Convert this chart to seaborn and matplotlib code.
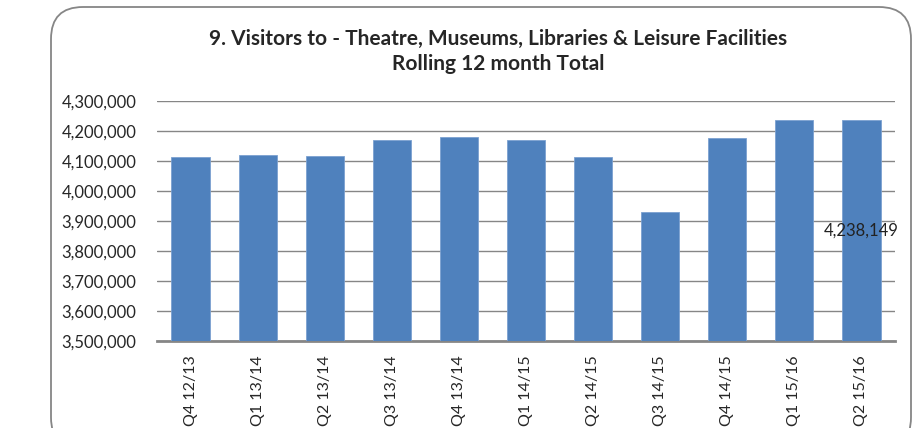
import matplotlib
matplotlib.use("Agg")
import matplotlib.pyplot as plt
import seaborn as sns
from matplotlib.patches import FancyBboxPatch
from matplotlib.ticker import FuncFormatter

# Data
quarters = ['Q4 12/13', 'Q1 13/14', 'Q2 13/14', 'Q3 13/14', 'Q4 13/14', 'Q1 14/15',
            'Q2 14/15', 'Q3 14/15', 'Q4 14/15', 'Q1 15/16', 'Q2 15/16']
visitors = [4113000, 4119000, 4116000, 4170000, 4180000, 4170000,
            4113000, 3929000, 4176000, 4236000, 4238149]
label_value = 4238149

sns.set_style("white")
plt.rcParams['font.family'] = ['Lato', 'DejaVu Sans']

fig = plt.figure(figsize=(9.13, 4.28), dpi=100)
ax = fig.add_axes([157 / 913, 1 - 341 / 428, (895 - 157) / 913, (341 - 101) / 428])

# rounded chart border
border = FancyBboxPatch((51 / 913, -0.05), (911 - 51) / 913, (428 - 7) / 428 + 0.05,
                        boxstyle="round,pad=0,rounding_size=0.035",
                        transform=fig.transFigure, fill=False,
                        edgecolor='#868686', linewidth=1.3, mutation_aspect=913 / 428)
fig.patches.append(border)

sns.barplot(x=quarters, y=visitors, color='#4F81BD', width=0.57, saturation=1,
            edgecolor='#7BA1D0', linewidth=0.6, ax=ax, zorder=3)

ax.set_ylim(3500000, 4300000)
ax.set_yticks(range(3500000, 4300001, 100000))
ax.yaxis.set_major_formatter(FuncFormatter(lambda v, p: f"{int(v):,}"))
ax.grid(axis='y', color='#868686', linewidth=1, zorder=0)
ax.set_axisbelow(True)
for s in ['left', 'right', 'top']:
    ax.spines[s].set_visible(False)
ax.spines['bottom'].set_color('#868686')
ax.spines['bottom'].set_linewidth(2)
ax.tick_params(axis='y', length=0, pad=15, labelsize=12)
ax.tick_params(axis='x', length=0, pad=10, labelsize=11.5, rotation=90)
ax.set_xlabel('')
ax.set_ylabel('')

# data label on last bar
ax.text(len(quarters) - 1, (3500000 + label_value) / 2, f"{label_value:,}",
        ha='center', va='center', fontsize=12, color='#222222', zorder=5)

fig.text(0.546, 0.879, "9. Visitors to - Theatre, Museums, Libraries & Leisure Facilities\nRolling 12 month Total",
         ha='center', va='center', fontsize=15, fontweight='bold', linespacing=1.3)

fig.savefig("out.png", dpi=100)
